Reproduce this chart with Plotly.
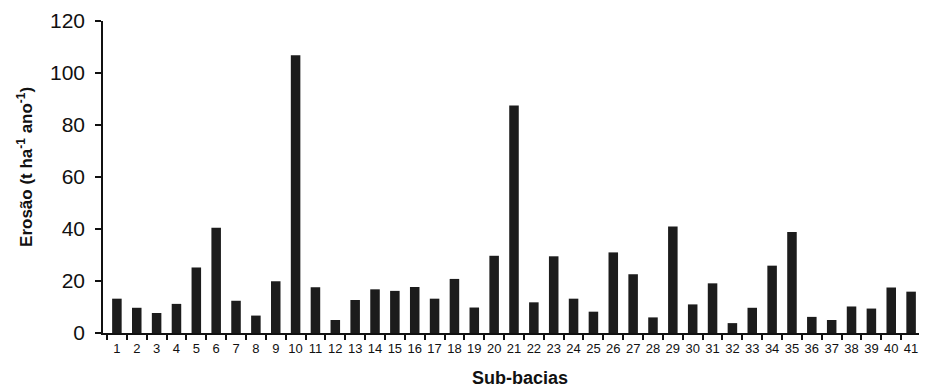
import plotly.graph_objects as go

sub_bacias = [str(i) for i in range(1, 42)]
erosao = [13.2, 9.7, 7.7, 11.2, 25.2, 40.5, 12.4, 6.7, 19.9, 106.8,
          17.6, 5.0, 12.7, 16.8, 16.2, 17.7, 13.2, 20.8, 9.8, 29.7,
          87.5, 11.8, 29.5, 13.2, 8.2, 31.0, 22.6, 6.0, 41.0, 11.0,
          19.1, 3.8, 9.7, 25.9, 38.8, 6.2, 5.0, 10.2, 9.4, 17.5, 15.9]
y_ticks = [0, 20, 40, 60, 80, 100, 120]

fig = go.Figure(go.Bar(
    x=sub_bacias, y=erosao,
    marker=dict(color="#1c1c1c", line=dict(width=0)),
    width=0.48,
))

# the page body has an 8px default margin, so the figure is sized to fit
fig.update_layout(
    width=919, height=379,
    margin=dict(l=95, r=2, t=13, b=54),
    paper_bgcolor="white", plot_bgcolor="white",
    showlegend=False,
    font=dict(family="Liberation Sans, Arial, sans-serif", color="#111"),
    bargap=0.5,
)
fig.update_xaxes(
    type="category",
    range=[-0.7, 40.7],
    automargin=False,
    showline=True, linecolor="#111", linewidth=1.5,
    ticks="outside", tickson="boundaries", ticklen=5, tickwidth=1.5, tickcolor="#111",
    tickangle=0,
    tickfont=dict(size=13),
    ticklabelstandoff=3,
    showgrid=False, zeroline=False,
)
fig.update_yaxes(
    range=[0, 120],
    tickvals=y_ticks,
    automargin=False,
    showline=True, linecolor="#111", linewidth=1.5,
    ticks="outside", ticklen=6, tickwidth=1.5, tickcolor="#111",
    tickfont=dict(size=21),
    ticklabelstandoff=6,
    showgrid=False, zeroline=False,
)
fig.add_annotation(
    text="<b>Erosão (t ha<sup>-1</sup> ano<sup>-1</sup>)</b>",
    xref="paper", yref="paper", x=-0.095, y=0.532, textangle=-90,
    showarrow=False, font=dict(size=17), xanchor="center", yanchor="middle",
)
fig.add_annotation(
    text="<b>Sub-bacias</b>",
    xref="paper", yref="paper", x=0.507, y=-0.145,
    showarrow=False, font=dict(size=18), xanchor="center", yanchor="middle",
)

fig.write_html("out.html")
